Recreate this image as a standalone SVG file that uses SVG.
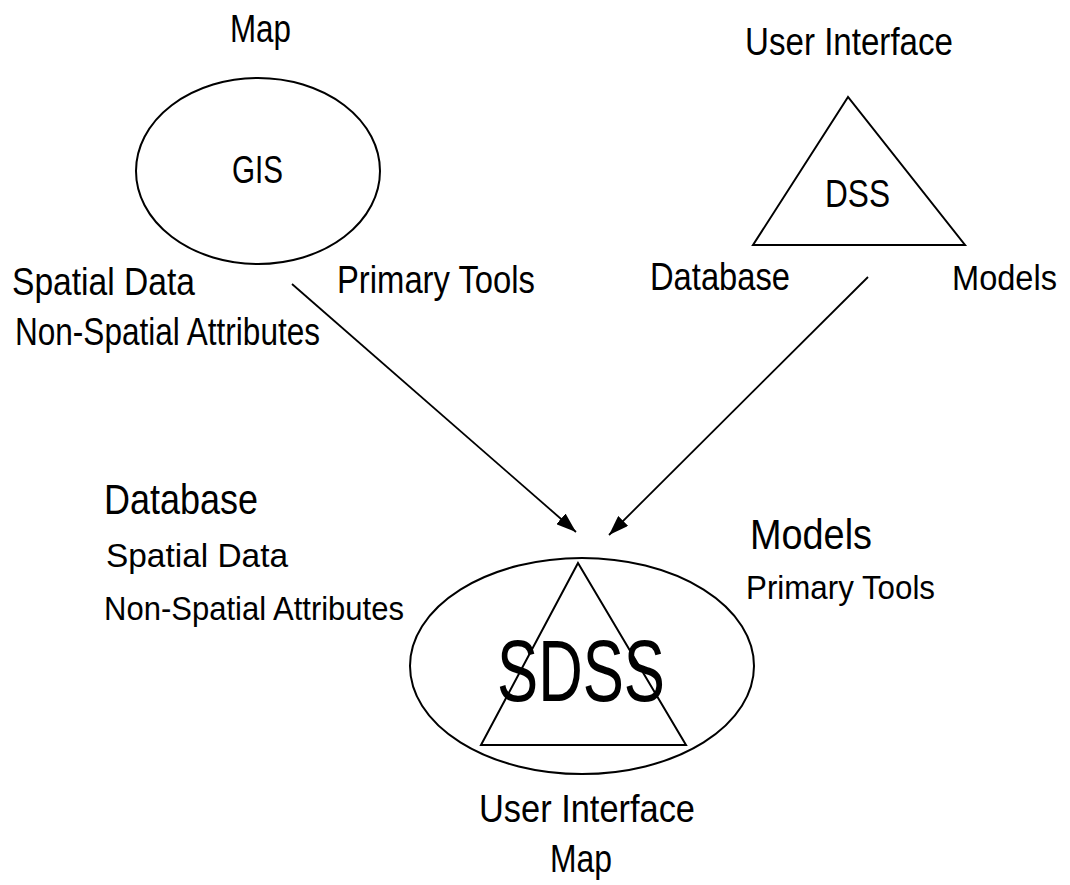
<svg xmlns="http://www.w3.org/2000/svg" width="1070" height="885" viewBox="0 0 1070 885">
<style>
text{font-family:"Liberation Sans",Arial,sans-serif;fill:#000;}
.l{font-size:38px;}
.m{font-size:33px;}
.b{font-size:42px;}
.shape{fill:none;stroke:#000;stroke-width:2;}
.conn{stroke:#000;stroke-width:1.8;fill:none;}
</style>
<defs>
<marker id="ah" viewBox="0 0 20 14" refX="20" refY="7" markerWidth="20" markerHeight="14" markerUnits="userSpaceOnUse" orient="auto">
<path d="M0,0 L20,7 L0,14 z" fill="#000"/>
</marker>
</defs>
<rect width="1070" height="885" fill="#fff"/>
<g id="gis">
<ellipse class="shape" cx="258" cy="171" rx="122" ry="93"/>
<text class="l" x="230" y="42" textLength="61" lengthAdjust="spacingAndGlyphs">Map</text>
<text class="l" x="232" y="183" textLength="51" lengthAdjust="spacingAndGlyphs">GIS</text>
<text class="l" x="12" y="295" textLength="183" lengthAdjust="spacingAndGlyphs">Spatial Data</text>
<text class="l" x="15" y="345" textLength="305" lengthAdjust="spacingAndGlyphs">Non-Spatial Attributes</text>
<text class="l" x="337" y="293" textLength="198" lengthAdjust="spacingAndGlyphs">Primary Tools</text>
</g>
<g id="dss">
<polygon class="shape" points="848,97 753,245 965,245"/>
<text class="l" x="745" y="55" textLength="208" lengthAdjust="spacingAndGlyphs">User Interface</text>
<text class="l" x="825" y="207" textLength="65" lengthAdjust="spacingAndGlyphs">DSS</text>
<text class="l" x="650" y="290" textLength="140" lengthAdjust="spacingAndGlyphs">Database</text>
<text x="952" y="290" font-size="35" textLength="105" lengthAdjust="spacingAndGlyphs">Models</text>
</g>
<g id="sdss">
<ellipse class="shape" cx="582" cy="666" rx="172" ry="108"/>
<polygon class="shape" points="578,563 481,745 686,745"/>
<text x="497" y="701" font-size="88" textLength="168" lengthAdjust="spacingAndGlyphs">SDSS</text>
<text class="b" x="104" y="514" textLength="154" lengthAdjust="spacingAndGlyphs">Database</text>
<text class="m" x="106" y="567" textLength="182" lengthAdjust="spacingAndGlyphs">Spatial Data</text>
<text class="m" x="104" y="620" textLength="300" lengthAdjust="spacingAndGlyphs">Non-Spatial Attributes</text>
<text class="b" x="750" y="549" textLength="122" lengthAdjust="spacingAndGlyphs">Models</text>
<text class="m" x="746" y="599" textLength="189" lengthAdjust="spacingAndGlyphs">Primary Tools</text>
<text class="l" x="479" y="822" textLength="216" lengthAdjust="spacingAndGlyphs">User Interface</text>
<text class="l" x="550" y="872" textLength="62" lengthAdjust="spacingAndGlyphs">Map</text>
</g>
<g id="connectors">
<line class="conn" x1="292" y1="284" x2="576" y2="532" marker-end="url(#ah)"/>
<line class="conn" x1="868" y1="277" x2="609" y2="535" marker-end="url(#ah)"/>
</g>
</svg>
